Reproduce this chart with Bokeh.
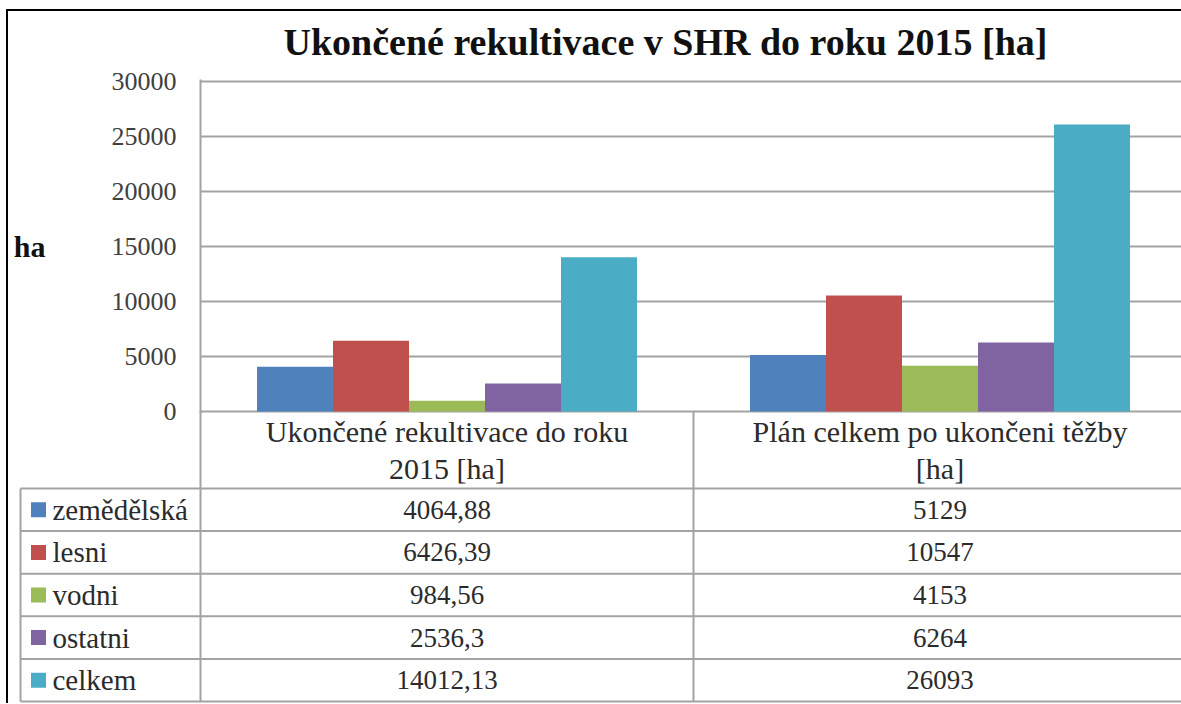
from bokeh.plotting import figure
from bokeh.models import Range1d, FixedTicker, ColumnDataSource, Title
from bokeh.layouts import column
from bokeh.embed import file_html
from bokeh.resources import INLINE
from bokeh.core.properties import value

# ---------------- data ----------------
title_text = "Ukončené rekultivace v SHR do roku 2015 [ha]"
categories = ["Ukončené rekultivace do roku\n2015 [ha]", "Plán celkem po ukončeni těžby\n[ha]"]
series = ["zemědělská", "lesni", "vodni", "ostatni", "celkem"]
colors = ["#4F81BD", "#C0504D", "#9BBB59", "#8064A2", "#4BACC6"]
done_2015 = [4064.88, 6426.39, 984.56, 2536.3, 14012.13]
plan_total = [5129, 10547, 4153, 6264, 26093]
y_ticks = [0, 5000, 10000, 15000, 20000, 25000, 30000]
y_unit = "ha"

# ---------------- layout constants (pixels) ----------------
FIG_W = 1173
CAT_PX = 493          # pixel width of one category
BAR_PX = 76           # pixel width of one bar
LEFT_PX = 192         # from figure left edge to plot area
VIS_PX = FIG_W - LEFT_PX
TOP_PX = 77           # from figure top edge to plot area
PLOT_PX = 330         # pixel height of 0..30000
PAD_PX = 2
HEADER_PX = 77
ROW_PX = 42.6
TABLE_H = 292
OVERLAP = 16
GRID = "#a3a3a3"
TXT = "#2b2b2b"
SERIF = "Liberation Serif"

x_end = VIS_PX / CAT_PX
bw = BAR_PX / CAT_PX
ymax = y_ticks[-1]
k = ymax / PLOT_PX

# ---------------- chart ----------------
p = figure(width=FIG_W, height=TOP_PX + PLOT_PX + 2 * PAD_PX + 14,
           x_range=Range1d(0, x_end), y_range=Range1d(-PAD_PX * k, ymax + PAD_PX * k),
           output_backend="svg", toolbar_location=None, x_axis_location=None,
           min_border_left=LEFT_PX, min_border_right=0, min_border_top=TOP_PX, min_border_bottom=14,
           styles={"margin-top": "-9px"})
p.frame_align = False
p.outline_line_color = None
p.border_fill_color = None
p.xgrid.visible = False
p.ygrid.grid_line_color = GRID
p.ygrid.grid_line_width = 2
p.ygrid.ticker = FixedTicker(ticks=y_ticks)
ya = p.yaxis[0]
ya.ticker = FixedTicker(ticks=y_ticks)
ya.major_tick_out = 0
ya.major_tick_in = 0
ya.minor_tick_out = 0
ya.minor_tick_in = 0
ya.axis_line_color = GRID
ya.axis_line_width = 2
ya.major_label_standoff = 24
ya.major_label_text_font = SERIF
ya.major_label_text_font_size = "26px"
ya.major_label_text_color = "#404040"
ya.axis_label = y_unit
ya.axis_label_orientation = "horizontal"
ya.axis_label_standoff = 63
ya.axis_label_text_font = SERIF
ya.axis_label_text_font_size = "30px"
ya.axis_label_text_font_style = "bold"
ya.axis_label_text_color = "#111111"

p.title = Title(text=title_text, text_font=SERIF, text_font_size="38px", text_font_style="bold",
                text_color="#111111", align="left", offset=83, standoff=33)

for i, name in enumerate(series):
    src = ColumnDataSource(dict(
        x=[0.5 + (i - 2) * bw, 1.5 + (i - 2) * bw],
        top=[done_2015[i], plan_total[i]],
    ))
    p.vbar(x="x", top="top", bottom=0, width=bw, source=src, fill_color=colors[i], line_color=None)

# ---------------- data table ----------------
hdr = HEADER_PX / ROW_PX
bottom_units = (TABLE_H - HEADER_PX) / ROW_PX
t = figure(width=FIG_W, height=TABLE_H, x_range=Range1d(-LEFT_PX / CAT_PX, x_end),
           y_range=Range1d(bottom_units, -hdr), output_backend="svg", toolbar_location=None,
           x_axis_location=None, y_axis_location=None, min_border=0,
           min_border_left=0, min_border_right=0, min_border_top=0, min_border_bottom=0,
           styles={"margin-top": f"-{OVERLAP}px"})
t.frame_align = False
t.outline_line_color = None
t.background_fill_color = None
t.border_fill_color = None
t.grid.visible = False

tbl_left = -(200 - 20) / CAT_PX
n = len(series)
t.segment(x0=[tbl_left] * (n + 1), y0=list(range(n + 1)), x1=[x_end + 1] * (n + 1), y1=list(range(n + 1)),
          line_color=GRID, line_width=2)
t.segment(x0=[tbl_left, 0, 1, 2], y0=[0, -hdr, -hdr, -hdr], x1=[tbl_left, 0, 1, 2], y1=[n, n, n, n],
          line_color=GRID, line_width=2)

t.text(x=[0.5, 1.5], y=[-hdr / 2, -hdr / 2], text=categories, text_font=value(SERIF),
       text_font_size="30px", text_align="center", text_baseline="middle", text_color=TXT,
       text_line_height=1.15)

def fmt(v):
    return str(v).replace(".", ",")

rows_y = [i + 0.5 for i in range(n)]
t.text(x=[0.5] * n, y=rows_y, text=[fmt(v) for v in done_2015], text_font=value(SERIF),
       text_font_size="27px", text_align="center", text_baseline="middle", text_color=TXT)
t.text(x=[1.5] * n, y=rows_y, text=[fmt(v) for v in plan_total], text_font=value(SERIF),
       text_font_size="27px", text_align="center", text_baseline="middle", text_color=TXT)

t.scatter(x=[(38 - 200) / CAT_PX] * n, y=rows_y, marker="square", size=15, fill_color=colors,
          line_color=None)
t.text(x=[(52 - 200) / CAT_PX] * n, y=rows_y, text=series, text_font=value(SERIF),
       text_font_size="29px", text_align="left", text_baseline="middle", text_color=TXT)

layout = column(p, t, styles={"border-left": "2px solid black", "border-top": "2px solid black",
                              "margin-left": "6px", "margin-top": "9px"})

with open("out.html", "w") as f:
    f.write(file_html(layout, INLINE))
